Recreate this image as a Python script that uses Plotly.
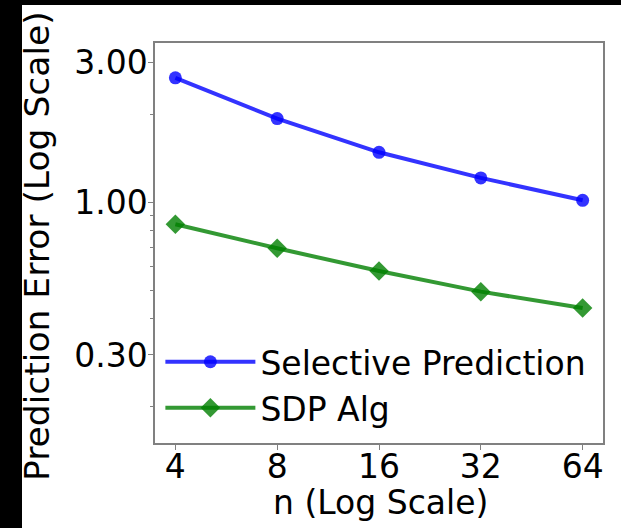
import math
import plotly.graph_objects as go

n_values = [4, 8, 16, 32, 64]
selective_prediction = [2.66, 1.93, 1.48, 1.21, 1.014]
sdp_alg = [0.840, 0.695, 0.581, 0.494, 0.434]
x_tick_labels = ["4", "8", "16", "32", "64"]
y_tick_values = [0.3, 1.0, 3.0]
y_tick_labels = ["0.30", "1.00", "3.00"]
y_minor_values = [0.2, 0.4, 0.5, 0.6, 0.7, 0.8, 0.9, 2.0]

FONT = "DejaVu Sans"
FS = 33
SPINE = "#808080"

fig = go.Figure()
fig.add_trace(go.Scatter(
    x=n_values, y=selective_prediction, name="Selective Prediction",
    mode="lines+markers",
    line=dict(color="rgba(0,0,255,0.8)", width=4),
    marker=dict(symbol="circle", size=13, color="rgba(0,0,255,0.8)"),
))
fig.add_trace(go.Scatter(
    x=n_values, y=sdp_alg, name="SDP Alg",
    mode="lines+markers",
    line=dict(color="rgba(0,128,0,0.8)", width=4),
    marker=dict(symbol="diamond", size=15, color="rgba(0,128,0,0.8)"),
))

L, R, T, B = 155, 18, 43, 85
W, H = 621, 528
pw, ph = W - L - R, H - T - B

# black strips at the left and top edges of the picture
fig.add_shape(type="rect", xref="paper", yref="paper",
              x0=-L / pw, x1=-(L - 22) / pw,
              y0=-B / ph, y1=(H - B) / ph,
              fillcolor="black", line_width=0, layer="below")
fig.add_shape(type="rect", xref="paper", yref="paper",
              x0=-L / pw, x1=(W - L) / pw,
              y0=(H - B - 5) / ph, y1=(H - B) / ph,
              fillcolor="black", line_width=0, layer="below")

fig.add_annotation(text="Prediction Error (Log Scale)", xref="paper", yref="paper",
                   x=(37 - L) / pw, y=(H - B - 246) / ph, textangle=-90,
                   showarrow=False, xanchor="center", yanchor="middle",
                   font=dict(family=FONT, size=34.5, color="black"))
fig.add_annotation(text="n (Log Scale)", xref="paper", yref="paper",
                   x=(380 - L) / pw, y=(H - B - 503) / ph,
                   showarrow=False, xanchor="center", yanchor="middle",
                   font=dict(family=FONT, size=FS, color="black"))

lx = math.log10(2) * 0.2
fig.update_xaxes(
    type="log",
    range=[math.log10(4) - lx, math.log10(64) + lx],
    tickvals=n_values, ticktext=x_tick_labels,
    ticks="outside", ticklen=5, tickwidth=1, tickcolor=SPINE,
    ticklabelstandoff=-11,
    showline=True, linecolor=SPINE, linewidth=1.5, mirror=True,
    showgrid=False, zeroline=False,
    tickfont=dict(family=FONT, size=FS, color="black"),
)
fig.update_yaxes(
    type="log",
    range=[math.log10(0.15), math.log10(3.5)],
    tickvals=y_tick_values, ticktext=y_tick_labels,
    ticks="outside", ticklen=5, tickwidth=1, tickcolor=SPINE,
    ticklabelstandoff=-6,
    minor=dict(tickvals=y_minor_values, ticks="outside", ticklen=3, tickwidth=1, tickcolor=SPINE, showgrid=False),
    showline=True, linecolor=SPINE, linewidth=1.5, mirror=True,
    showgrid=False, zeroline=False,
    tickfont=dict(family=FONT, size=FS, color="black"),
)

fig.update_layout(
    width=W, height=H,
    margin=dict(l=L, r=R, t=T, b=B, pad=0),
    paper_bgcolor="white", plot_bgcolor="white",
    showlegend=True,
    legend=dict(
        x=0.012, y=0.018, xanchor="left", yanchor="bottom",
        bgcolor="rgba(0,0,0,0)", borderwidth=0,
        font=dict(family=FONT, size=FS, color="black"),
        itemwidth=90, tracegroupgap=0,
    ),
)

fig.write_html(
    "out.html",
    config={"displayModeBar": False},
    post_script="document.body.style.margin='0';document.body.style.overflow='hidden';",
)
